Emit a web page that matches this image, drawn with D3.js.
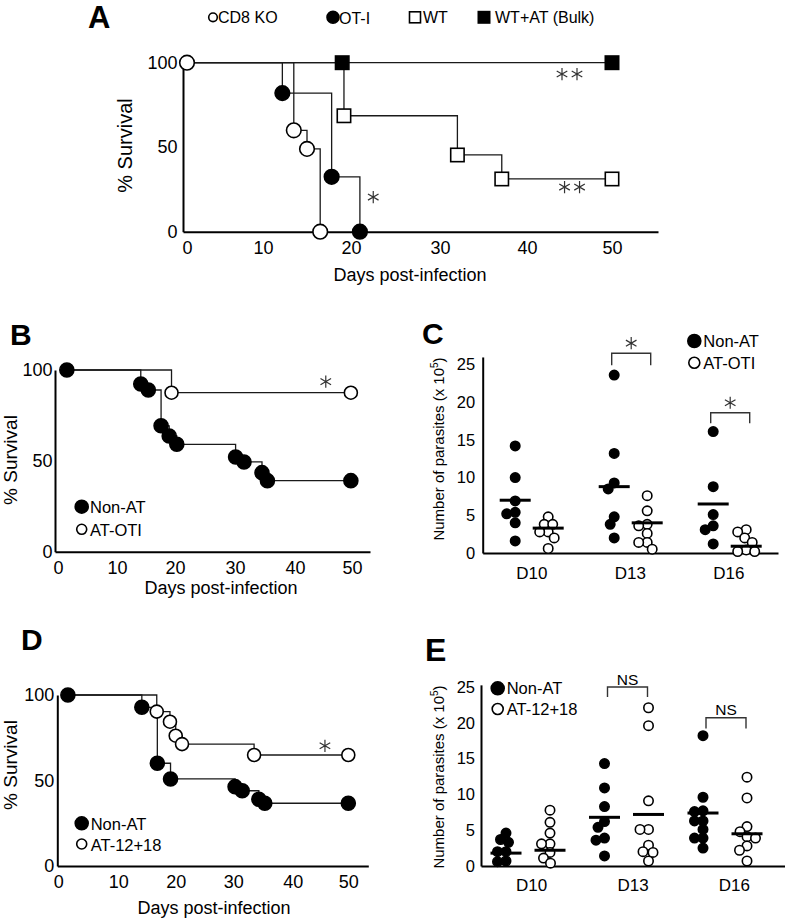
<!DOCTYPE html>
<html><head><meta charset="utf-8">
<script src="https://cdn.jsdelivr.net/npm/d3@7/dist/d3.min.js"></script>
<style>
html,body{margin:0;padding:0;background:#fff;}
svg{display:block;}
</style></head><body>
<svg id="chart" width="785" height="920"></svg>
<script>
// ---------------- DATA ----------------
// Panel A
const aNames = ["CD8 KO", "OT-I", "WT", "WT+AT (Bulk)"];
const aDayTicks = [0, 10, 20, 30, 40, 50];
const aSurvTicks = [0, 50, 100];
const aCD8KO = [[0,100],[13.5,60],[15.0,49],[16.5,0]];
const aOTI   = [[0,100],[12.2,82],[17.8,32.5],[21.0,0]];
const aWT    = [[0,100],[19.2,68.6],[32.0,45.4],[37.1,31.2],[50,31.2]];
const aWTAT  = [[0,100],[19.0,100],[50,100]];
const aStars = [[45.0,93.3,2],[45.3,26.4,2],[22.5,20.5,1]];
// Panel B
const bNames = ["Non-AT", "AT-OTI"];
const bDayTicks = [0, 10, 20, 30, 40, 50];
const bSurvTicks = [0, 50, 100];
const bNonAT = [[1.5,100],[14.1,92.3],[15.4,89],[17.6,69.3],[19.0,63.7],[20.3,59.1],[30.1,52.1],[31.5,49.4],[34.5,43.5],[35.4,39.1],[49.8,39.1]];
const bATOTI = [[1.5,100],[19.4,87.5],[49.8,87.5]];
const bStars = [[45.4,93.6,1]];
// Panel C
const cCats = ["D10", "D13", "D16"];
const cNames = ["Non-AT", "AT-OTI"];
const cTicks = [0, 5, 10, 15, 20, 25];
const cNonAT = [[14.2,10.0,6.9,5.4,5.2,4.0,1.6],[23.6,13.2,9.3,8.5,4.8,3.8,2.0],[16.1,8.8,5.1,3.6,3.1,1.2]];
const cATOTI = [[4.8,3.8,3.8,2.8,2.8,2.0,0.6],[7.6,5.6,3.8,3.6,2.6,1.4,1.4,0.5],[3.1,2.8,2.0,1.4,0.4,0.2,0.2]];
const cMeanNonAT = [7.0, 8.8, 6.5];
const cMeanATOTI = [3.3, 4.0, 0.9];
const cBrackets = [["D13",24.9,26.5,"*"],["D16",17.2,18.6,"*"]];
// Panel D
const dNames = ["Non-AT", "AT-12+18"];
const dDayTicks = [0, 10, 20, 30, 40, 50];
const dSurvTicks = [0, 50, 100];
const dNonAT = [[1.6,100],[14.1,92.8],[16.8,60.1],[19.1,50.9],[30.3,46.4],[31.5,44.0],[34.3,39.0],[35.3,36.7],[50,36.7]];
const dAT = [[1.6,100],[16.7,90.3],[19.0,84.4],[20.0,76.2],[21.1,71.3],[33.5,64.9],[50,64.9]];
const dStars = [[45.8,70.3,1]];
// Panel E
const eCats = ["D10", "D13", "D16"];
const eNames = ["Non-AT", "AT-12+18"];
const eTicks = [0, 5, 10, 15, 20, 25];
const eNonAT = [[4.6,3.7,3.3,2.0,2.0,0.7,0.6],[14.3,10.9,8.3,6.2,5.4,3.9,3.6,1.4],[18.2,9.6,7.7,7.6,6.3,6.3,5.1,3.9,3.9,2.5]];
const eAT = [[7.8,6.1,4.6,3.1,3.1,1.9,1.1,0.4],[22.1,19.6,9.1,5.1,5.1,2.9,2.0,1.9,0.7],[12.4,9.5,5.5,4.8,4.1,3.9,2.8,2.2,0.7]];
const eMeanNonAT = [1.8, 6.8, 7.4];
const eMeanAT = [2.2, 7.2, 4.5];
const eBrackets = [["D13",23.6,25.0,"NS"],["D16",19.2,20.7,"NS"]];

// ---------------- DRAW ----------------
const FONT = '"Liberation Sans", Arial, Helvetica, sans-serif';
const svg = d3.select("#chart");
const LINE = "#1a1a1a";

function txt(g, x, y, s, fs, opts = {}) {
  const t = g.append("text").attr("x", x).attr("y", y).text(s)
    .attr("font-family", FONT).attr("font-size", fs).attr("fill", "#000")
    .attr("text-anchor", opts.anchor || "start");
  if (opts.bold) t.attr("font-weight", "bold");
  return t;
}
function rtxt(g, x, y, s, fs) {
  return g.append("text").attr("transform", `translate(${x},${y}) rotate(-90)`)
    .attr("text-anchor", "middle").attr("font-family", FONT).attr("font-size", fs)
    .attr("fill", "#000").text(s);
}
function styleAxis(g, fs) {
  g.select(".domain").attr("stroke", "#000").attr("stroke-width", 2);
  g.selectAll(".tick line").remove();
  g.selectAll("text").attr("font-family", FONT).attr("font-size", fs).attr("fill", "#000");
}
function marker(g, x, y, shape, filled, r) {
  if (shape === "circle") {
    g.append("circle").attr("cx", x).attr("cy", y).attr("r", r)
      .attr("fill", filled ? "#000" : "#fff").attr("stroke", "#000").attr("stroke-width", 1.6);
  } else {
    g.append("rect").attr("x", x - r).attr("y", y - r).attr("width", 2 * r).attr("height", 2 * r)
      .attr("fill", filled ? "#000" : "#fff").attr("stroke", "#000").attr("stroke-width", 1.6);
  }
}
function km(g, x, y, data, shape, filled, r, start) {
  const line = d3.line().x(d => x(d[0])).y(d => y(d[1])).curve(d3.curveStepAfter);
  g.append("path").attr("d", line(data)).attr("fill", "none").attr("stroke", LINE).attr("stroke-width", 1.3);
  return () => data.slice(start).forEach(d => marker(g, x(d[0]), y(d[1]), shape, filled, r));
}
const starSym = d3.symbol(d3.symbolAsterisk, 105);
function stars(g, cx, cy, n) {
  for (let i = 0; i < n; i++) {
    const dx = (i - (n - 1) / 2) * 15;
    g.append("path").attr("d", starSym()).attr("transform", `translate(${cx + dx},${cy})`)
      .attr("fill", "none").attr("stroke", "#333").attr("stroke-width", 1.2);
  }
}
function swarm(vals, cx, yS, minD) {
  const placed = [];
  return vals.map(v => {
    const yy = yS(v);
    let xx = cx;
    for (let k = 0; k < 400; k++) {
      const o = k === 0 ? 0 : (k % 2 === 1 ? -1 : 1) * Math.ceil(k / 2) * 0.5;
      const cand = cx + o;
      if (placed.every(p => (p[0] - cand) ** 2 + (p[1] - yy) ** 2 >= minD * minD)) { xx = cand; break; }
    }
    placed.push([xx, yy]);
    return [xx, yy];
  });
}

// ---------- Panel A ----------
{
  const g = svg.append("g");
  const x = d3.scaleLinear().domain([-0.5, 0, 10, 20, 30, 40, 50, 55.5]).range([183, 187, 263, 351, 440, 527, 612, 658]);
  const y = d3.scaleLinear().domain([0, 100]).range([231.7, 62.7]);
  const ax = g.append("g").attr("transform", `translate(0,${y(0)})`)
    .call(d3.axisBottom(x).tickValues(aDayTicks).tickSize(0).tickPadding(10).tickSizeOuter(0));
  styleAxis(ax, 18);
  const ay = g.append("g").attr("transform", `translate(${x(-0.5)},0)`)
    .call(d3.axisLeft(y).tickValues(aSurvTicks).tickSize(0).tickPadding(5.5).tickSizeOuter(0));
  styleAxis(ay, 18);
  const m1 = km(g, x, y, aWTAT, "rect", true, 6.7, 1);
  const m2 = km(g, x, y, aWT, "rect", false, 6.7, 1);
  const m3 = km(g, x, y, aOTI, "circle", true, 7.3, 1);
  const m4 = km(g, x, y, aCD8KO, "circle", false, 7.3, 0);
  m1(); m2(); m3(); m4();
  aStars.forEach(s => stars(g, x(s[0]), y(s[1]), s[2]));
  txt(g, 88, 28.2, "A", 31, { bold: true });
  rtxt(g, 132, 145.5, "% Survival", 20);
  txt(g, 410, 281, "Days post-infection", 18, { anchor: "middle" });
  // legend
  const lg = [[213, aNames[0], "circle", false, 4.3, 218, 23.3], [333, aNames[1], "circle", true, 6, 339, 24],
              [415, aNames[2], "rect", false, 5.5, 423, 23.3], [484, aNames[3], "rect", true, 5.7, 495, 23.3]];
  lg.forEach(l => {
    marker(g, l[0], 17.3, l[2], l[3], l[4]);
    txt(g, l[5], l[6], l[1], 16);
  });
}

// ---------- Panel B ----------
{
  const g = svg.append("g");
  const x = d3.scaleLinear().domain([-0.5, 0, 10, 20, 30, 40, 50, 53]).range([55, 58, 117, 175, 235, 295, 352, 370]);
  const y = d3.scaleLinear().domain([0, 100]).range([551.7, 370]);
  const ax = g.append("g").attr("transform", `translate(0,${y(0)})`)
    .call(d3.axisBottom(x).tickValues(bDayTicks).tickSize(0).tickPadding(9.5).tickSizeOuter(0));
  styleAxis(ax, 18);
  const ay = g.append("g").attr("transform", `translate(${x(-0.5)},0)`)
    .call(d3.axisLeft(y).tickValues(bSurvTicks).tickSize(0).tickPadding(2.5).tickSizeOuter(0));
  styleAxis(ay, 18);
  const m1 = km(g, x, y, bATOTI, "circle", false, 6.5, 1);
  const m2 = km(g, x, y, bNonAT, "circle", true, 7, 0);
  m1(); m2();
  bStars.forEach(s => stars(g, x(s[0]), y(s[1]), s[2]));
  txt(g, 10, 345, "B", 30, { bold: true });
  rtxt(g, 17, 460, "% Survival", 19);
  txt(g, 221, 594, "Days post-infection", 18, { anchor: "middle" });
  marker(g, 81.7, 506.7, "circle", true, 6.5);
  txt(g, 90, 513, bNames[0], 16.5);
  marker(g, 81.7, 529.3, "circle", false, 5);
  txt(g, 90, 535.5, bNames[1], 16.5);
}

// ---------- Panel D ----------
{
  const g = svg.append("g");
  const x = d3.scaleLinear().domain([-0.5, 0, 10, 20, 30, 40, 50, 53.5]).range([57.3, 58.3, 118.3, 175.7, 233.3, 292.7, 348.3, 368.3]);
  const y = d3.scaleLinear().domain([0, 100]).range([866, 695]);
  const ax = g.append("g").attr("transform", `translate(0,${y(0)})`)
    .call(d3.axisBottom(x).tickValues(dDayTicks).tickSize(0).tickPadding(9).tickSizeOuter(0));
  styleAxis(ax, 18);
  const ay = g.append("g").attr("transform", `translate(${x(-0.5)},0)`)
    .call(d3.axisLeft(y).tickValues(dSurvTicks).tickSize(0).tickPadding(3).tickSizeOuter(0));
  styleAxis(ay, 18);
  const m1 = km(g, x, y, dAT, "circle", false, 6.5, 1);
  const m2 = km(g, x, y, dNonAT, "circle", true, 7, 0);
  m2(); m1();
  dStars.forEach(s => stars(g, x(s[0]), y(s[1]), s[2]));
  txt(g, 21, 650, "D", 30, { bold: true });
  rtxt(g, 17, 765, "% Survival", 19);
  txt(g, 214, 914, "Days post-infection", 18, { anchor: "middle" });
  marker(g, 81.7, 823.3, "circle", true, 6.5);
  txt(g, 90.7, 829.5, dNames[0], 16.5);
  marker(g, 81.7, 844, "circle", false, 5);
  txt(g, 90.7, 850.5, dNames[1], 16.5);
}

// ---------- dot plots ----------
function dotPanel(opt) {
  const g = svg.append("g");
  const y = d3.scaleLinear().domain([0, opt.yTop]).range([opt.y0, opt.y0 - opt.yTop * opt.pxPer]);
  const xb = d3.scaleBand().domain(opt.cats).range(opt.axisRange);
  const xg = d3.scalePoint().domain(opt.cats).range(opt.groupRange);
  const ax = g.append("g").attr("transform", `translate(0,${opt.y0})`)
    .call(d3.axisBottom(xb).tickSize(0).tickPadding(opt.xPad).tickSizeOuter(0));
  styleAxis(ax, 17);
  const ay = g.append("g").attr("transform", `translate(${opt.axisRange[0]},0)`)
    .call(d3.axisLeft(y).tickValues(opt.ticks).tickSize(0).tickPadding(opt.yPad).tickSizeOuter(0));
  styleAxis(ay, 16.5);
  const r = 4.7;
  opt.cats.forEach((c, i) => {
    const cx0 = xg(c) - opt.off, cx1 = xg(c) + opt.off;
    swarm(opt.s0[i], cx0, y, 8.4).forEach(p => marker(g, p[0], p[1], "circle", true, r));
    swarm(opt.s1[i], cx1, y, 8.4).forEach(p => marker(g, p[0], p[1], "circle", false, r));
    [[cx0, opt.m0[i]], [cx1, opt.m1[i]]].forEach(m => {
      g.append("line").attr("x1", m[0] - 15.5).attr("x2", m[0] + 15.5)
        .attr("y1", y(m[1])).attr("y2", y(m[1])).attr("stroke", "#000").attr("stroke-width", 3);
    });
  });
  opt.brackets.forEach(b => {
    const c = xg(b[0]) + opt.brShift, hw = opt.brHalf;
    g.append("path").attr("d", `M${c - hw},${y(b[1])}V${y(b[2])}H${c + hw}V${y(b[1])}`)
      .attr("fill", "none").attr("stroke", "#333").attr("stroke-width", 1.4);
    if (b[3] === "*") stars(g, c, y(b[2]) - 10, 1);
    else txt(g, c, y(b[2]) - 2.5, b[3], 15.5, { anchor: "middle" });
  });
  // y title
  const t = g.append("text").attr("transform", `translate(443.5,${opt.titleY}) rotate(-90)`)
    .attr("text-anchor", "middle").attr("font-family", FONT).attr("font-size", 15).attr("fill", "#000");
  t.append("tspan").text("Number of parasites (x 10");
  t.append("tspan").attr("font-size", 10).attr("dy", -6).text("5");
  t.append("tspan").attr("dy", 6).text(")");
  txt(g, opt.letterX, opt.letterY, opt.letter, opt.letterFs, { bold: true });
  // legend
  marker(g, opt.legX, opt.legY0, "circle", true, 6.5);
  txt(g, opt.legX + 9, opt.legY0 + 6, opt.names[0], 16.5);
  marker(g, opt.legX, opt.legY1, "circle", false, 5.5);
  txt(g, opt.legX + 9, opt.legY1 + 6, opt.names[1], 16.5);
}

dotPanel({
  cats: cCats, names: cNames, ticks: cTicks, s0: cNonAT, s1: cATOTI, m0: cMeanNonAT, m1: cMeanATOTI,
  brackets: cBrackets, yTop: 26, y0: 553, pxPer: 7.54, axisRange: [482.7, 778], groupRange: [531.7, 729.7],
  off: 16.5, xPad: 14, yPad: 7.5, brShift: 0.5, brHalf: 19.5, titleY: 449,
  letter: "C", letterX: 422, letterY: 344, letterFs: 30, legX: 694.3, legY0: 341, legY1: 362.7
});
dotPanel({
  cats: eCats, names: eNames, ticks: eTicks, s0: eNonAT, s1: eAT, m0: eMeanNonAT, m1: eMeanAT,
  brackets: eBrackets, yTop: 25.3, y0: 866, pxPer: 7.16, axisRange: [481, 785], groupRange: [528, 725],
  off: 22, xPad: 13, yPad: 6, brShift: 1, brHalf: 20, titleY: 777,
  letter: "E", letterX: 425, letterY: 661, letterFs: 32, legX: 497.7, legY0: 688.3, legY1: 709
});
</script>
</body></html>
